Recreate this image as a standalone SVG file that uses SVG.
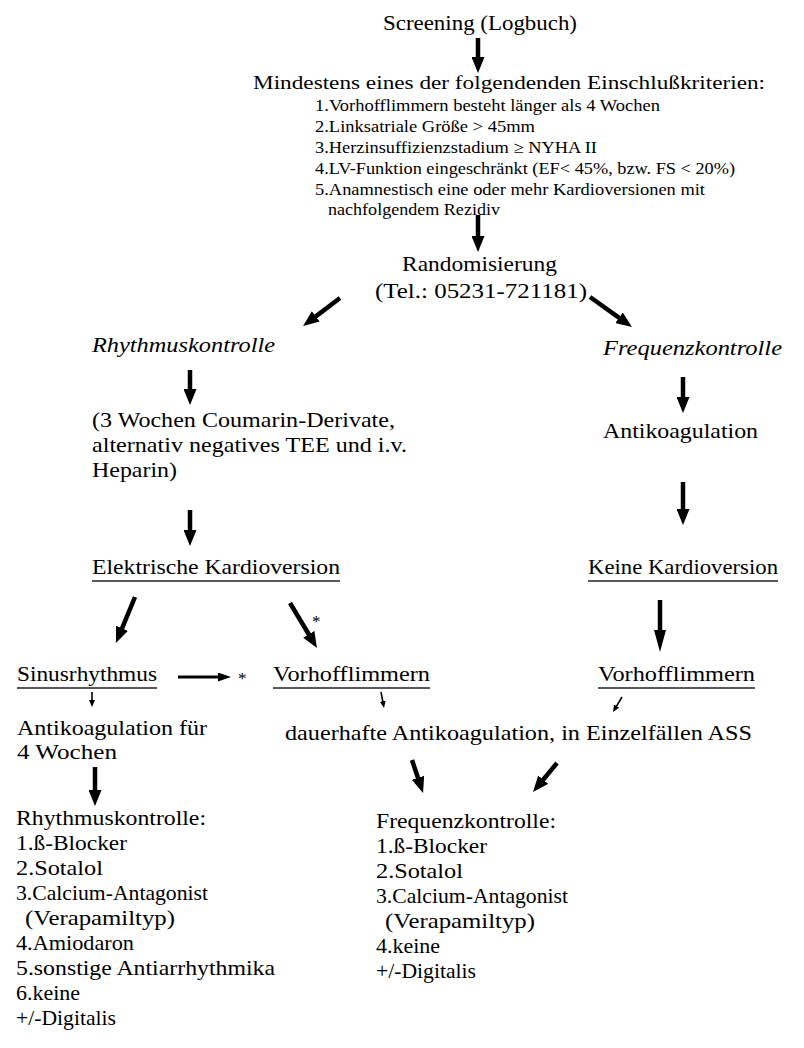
<svg xmlns="http://www.w3.org/2000/svg" width="804" height="1048" viewBox="0 0 804 1048">
<style>
text{font-family:"Liberation Serif","Times New Roman",Times,serif;fill:#000}
.b{font-size:22px}
.m{font-size:21px}
.h{font-size:18px}
.s{font-size:16.5px}
.i{font-style:italic;font-size:22px}
.st{font-size:17px}
.ul{stroke:#222;stroke-width:1.3}
.big{stroke:#000;stroke-width:4.5;fill:none}
.med{stroke:#000;stroke-width:3.2;fill:none}
.sm{stroke:#000;stroke-width:1.6;fill:none}
</style>
<defs>
<marker id="hb" markerUnits="userSpaceOnUse" markerWidth="16" markerHeight="13" refX="2" refY="6.5" orient="auto"><path d="M0,0 L16,6.5 L0,13 z" fill="#000"/></marker>
<marker id="hl" markerUnits="userSpaceOnUse" markerWidth="22" markerHeight="12" refX="2" refY="6" orient="auto"><path d="M0,0 L22,6 L0,12 z" fill="#000"/></marker>
<marker id="hm" markerUnits="userSpaceOnUse" markerWidth="13" markerHeight="9" refX="1" refY="4.5" orient="auto"><path d="M0,0 L13,4.5 L0,9 z" fill="#000"/></marker>
<marker id="hs" markerUnits="userSpaceOnUse" markerWidth="7" markerHeight="6" refX="1" refY="3" orient="auto"><path d="M0,0 L7,3 L0,6 z" fill="#000"/></marker>
</defs>
<rect width="804" height="1048" fill="#fff"/>

<g id="screening"><text class="b" x="383" y="30" textLength="194" lengthAdjust="spacingAndGlyphs">Screening (Logbuch)</text></g>

<g id="kriterien">
<text class="h" x="253" y="89" textLength="512" lengthAdjust="spacingAndGlyphs">Mindestens eines der folgendenden Einschlußkriterien:</text>
<text class="s" x="315" y="111" textLength="345" lengthAdjust="spacingAndGlyphs">1.Vorhofflimmern besteht länger als 4 Wochen</text>
<text class="s" x="315" y="132" textLength="220" lengthAdjust="spacingAndGlyphs">2.Linksatriale Größe &gt; 45mm</text>
<text class="s" x="315" y="153" textLength="282" lengthAdjust="spacingAndGlyphs">3.Herzinsuffizienzstadium ≥ NYHA II</text>
<text class="s" x="315" y="174" textLength="420" lengthAdjust="spacingAndGlyphs">4.LV-Funktion eingeschränkt (EF&lt; 45%, bzw. FS &lt; 20%)</text>
<text class="s" x="315" y="195" textLength="390" lengthAdjust="spacingAndGlyphs">5.Anamnestisch eine oder mehr Kardioversionen mit</text>
<text class="s" x="328" y="215" textLength="172" lengthAdjust="spacingAndGlyphs">nachfolgendem Rezidiv</text>
</g>

<g id="randomisierung">
<text class="b" x="402" y="271" textLength="155" lengthAdjust="spacingAndGlyphs">Randomisierung</text>
<text class="b" x="375" y="298" textLength="212" lengthAdjust="spacingAndGlyphs">(Tel.: 05231-721181)</text>
</g>

<g id="rhythmuskontrolle"><text class="i" x="92" y="352" textLength="183" lengthAdjust="spacingAndGlyphs">Rhythmuskontrolle</text></g>
<g id="frequenzkontrolle"><text class="i" x="603" y="355" textLength="179" lengthAdjust="spacingAndGlyphs">Frequenzkontrolle</text></g>

<g id="coumarin">
<text class="m" x="92" y="427" textLength="303" lengthAdjust="spacingAndGlyphs">(3 Wochen Coumarin-Derivate,</text>
<text class="m" x="92" y="452" textLength="315" lengthAdjust="spacingAndGlyphs">alternativ negatives TEE und i.v.</text>
<text class="m" x="92" y="477" textLength="85" lengthAdjust="spacingAndGlyphs">Heparin)</text>
</g>

<g id="antikoagulation"><text class="m" x="603" y="438" textLength="155" lengthAdjust="spacingAndGlyphs">Antikoagulation</text></g>

<g id="elektrische">
<text class="m" x="92" y="574" textLength="248" lengthAdjust="spacingAndGlyphs">Elektrische Kardioversion</text>
<line class="ul" x1="92" y1="581" x2="340" y2="581"/>
</g>
<g id="keine">
<text class="m" x="588" y="574" textLength="190" lengthAdjust="spacingAndGlyphs">Keine Kardioversion</text>
<line class="ul" x1="588" y1="581" x2="778" y2="581"/>
</g>

<g id="sinus">
<text class="m" x="17" y="681" textLength="140" lengthAdjust="spacingAndGlyphs">Sinusrhythmus</text>
<line class="ul" x1="17" y1="688" x2="157" y2="688"/>
</g>
<g id="vhf-mitte">
<text class="m" x="273" y="681" textLength="157" lengthAdjust="spacingAndGlyphs">Vorhofflimmern</text>
<line class="ul" x1="273" y1="688" x2="430" y2="688"/>
</g>
<g id="vhf-rechts">
<text class="m" x="598" y="681" textLength="157" lengthAdjust="spacingAndGlyphs">Vorhofflimmern</text>
<line class="ul" x1="598" y1="688" x2="755" y2="688"/>
</g>

<g id="antikoag-4w">
<text class="m" x="17" y="735" textLength="190" lengthAdjust="spacingAndGlyphs">Antikoagulation für</text>
<text class="m" x="17" y="759" textLength="100" lengthAdjust="spacingAndGlyphs">4 Wochen</text>
</g>
<g id="dauerhaft"><text class="m" x="285" y="740" textLength="467" lengthAdjust="spacingAndGlyphs">dauerhafte Antikoagulation, in Einzelfällen ASS</text></g>

<g id="liste-rhythmus">
<text class="m" x="16" y="825" textLength="190" lengthAdjust="spacingAndGlyphs">Rhythmuskontrolle:</text>
<text class="m" x="16" y="850" textLength="111" lengthAdjust="spacingAndGlyphs">1.ß-Blocker</text>
<text class="m" x="16" y="875" textLength="87" lengthAdjust="spacingAndGlyphs">2.Sotalol</text>
<text class="m" x="16" y="900" textLength="192" lengthAdjust="spacingAndGlyphs">3.Calcium-Antagonist</text>
<text class="m" x="25" y="925" textLength="150" lengthAdjust="spacingAndGlyphs">(Verapamiltyp)</text>
<text class="m" x="16" y="950" textLength="118" lengthAdjust="spacingAndGlyphs">4.Amiodaron</text>
<text class="m" x="16" y="975" textLength="259" lengthAdjust="spacingAndGlyphs">5.sonstige Antiarrhythmika</text>
<text class="m" x="16" y="1000" textLength="64" lengthAdjust="spacingAndGlyphs">6.keine</text>
<text class="m" x="16" y="1025" textLength="100" lengthAdjust="spacingAndGlyphs">+/-Digitalis</text>
</g>

<g id="liste-frequenz">
<text class="m" x="376" y="828" textLength="180" lengthAdjust="spacingAndGlyphs">Frequenzkontrolle:</text>
<text class="m" x="376" y="853" textLength="111" lengthAdjust="spacingAndGlyphs">1.ß-Blocker</text>
<text class="m" x="376" y="878" textLength="87" lengthAdjust="spacingAndGlyphs">2.Sotalol</text>
<text class="m" x="376" y="903" textLength="192" lengthAdjust="spacingAndGlyphs">3.Calcium-Antagonist</text>
<text class="m" x="385" y="928" textLength="150" lengthAdjust="spacingAndGlyphs">(Verapamiltyp)</text>
<text class="m" x="376" y="953" textLength="64" lengthAdjust="spacingAndGlyphs">4.keine</text>
<text class="m" x="376" y="978" textLength="100" lengthAdjust="spacingAndGlyphs">+/-Digitalis</text>
</g>

<g id="connectors">
<line class="big" x1="478" y1="38" x2="478" y2="59" marker-end="url(#hb)"/>
<line class="big" x1="478" y1="215" x2="478" y2="238" marker-end="url(#hb)"/>
<line class="big" x1="340" y1="298" x2="314.2" y2="317.6" marker-end="url(#hb)"/>
<line class="big" x1="590" y1="297" x2="620.6" y2="318.9" marker-end="url(#hb)"/>
<line class="big" x1="190" y1="370" x2="190" y2="391" marker-end="url(#hb)"/>
<line class="big" x1="683" y1="377" x2="683" y2="399" marker-end="url(#hb)"/>
<line class="big" x1="190" y1="510" x2="190" y2="532" marker-end="url(#hb)"/>
<line class="big" x1="683" y1="482" x2="683" y2="511" marker-end="url(#hb)"/>
<line class="big" x1="135" y1="597" x2="121.3" y2="630.1" marker-end="url(#hb)"/>
<line class="big" x1="290" y1="603" x2="309.8" y2="636" marker-end="url(#hb)"/>
<text class="st" x="312" y="627">*</text>
<line class="big" x1="660" y1="600" x2="660" y2="632" marker-end="url(#hl)"/>
<line class="med" x1="178" y1="677" x2="219" y2="677" marker-end="url(#hm)"/>
<text class="st" x="238" y="684">*</text>
<line class="sm" x1="92" y1="692" x2="92" y2="701" marker-end="url(#hs)"/>
<line class="sm" x1="381" y1="692" x2="382.9" y2="702.1" marker-end="url(#hs)"/>
<line class="sm" x1="622" y1="697" x2="616.1" y2="706.9" marker-end="url(#hs)"/>
<line class="big" x1="95" y1="767" x2="95" y2="792" marker-end="url(#hb)"/>
<line class="big" x1="412" y1="760" x2="418.6" y2="779.7" marker-end="url(#hb)"/>
<line class="big" x1="557" y1="763" x2="541.9" y2="781.2" marker-end="url(#hb)"/>
</g>
</svg>
